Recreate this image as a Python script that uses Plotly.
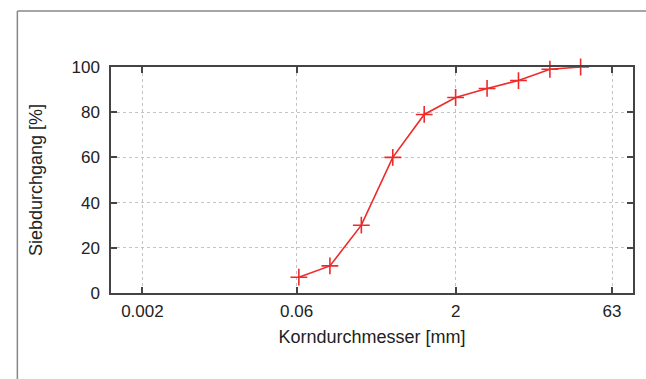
import plotly.graph_objects as go

# Data
grain_size_mm = [0.063, 0.125, 0.25, 0.5, 1, 2, 4, 8, 16, 31.5]
passing_pct = [7, 12, 30, 60, 79, 86.5, 90.5, 94, 99, 100]
x_tickvals = [0.002, 0.06, 2, 63]
x_ticklabels = ["0.002", "0.06", "2", "63"]
y_tickvals = [0, 20, 40, 60, 80, 100]

W, H = 646, 379
ml, mr, mt, mb = 111, 11, 67, 86
pw, ph = W - ml - mr, H - mt - mb

fig = go.Figure()
fig.add_trace(go.Scatter(
    x=grain_size_mm, y=passing_pct, mode="lines+markers",
    line=dict(color="#ee2a2a", width=1.6),
    marker=dict(symbol="cross-thin", size=12, line=dict(color="#ee2a2a", width=1.6)),
    showlegend=False, cliponaxis=False,
))

font = dict(family="Liberation Sans, Arial, Helvetica, sans-serif", size=17, color="#222")
tfont = dict(family="Liberation Sans, Arial, Helvetica, sans-serif", size=18, color="#222")

fig.update_layout(
    width=W, height=H,
    margin=dict(l=ml, r=mr, t=mt, b=mb),
    paper_bgcolor="white", plot_bgcolor="white",
    font=font,
    xaxis=dict(
        type="log", range=[-3, 2],
        tickvals=x_tickvals, ticktext=x_ticklabels,
        ticks="inside", ticklen=6, tickwidth=1.5, tickcolor="#444",
        ticklabelstandoff=2,
        mirror="allticks", showline=True, linecolor="#444", linewidth=1.5,
        showgrid=True, gridcolor="#c4c4c4", griddash="dot", gridwidth=1,
        zeroline=False,
        title=dict(text="Korndurchmesser [mm]", standoff=10, font=tfont),
    ),
    yaxis=dict(
        range=[0, 100],
        tickvals=y_tickvals,
        ticks="inside", ticklen=6, tickwidth=1.5, tickcolor="#444",
        ticklabelstandoff=6,
        mirror="allticks", showline=True, linecolor="#444", linewidth=1.5,
        showgrid=True, gridcolor="#c4c4c4", griddash="dot", gridwidth=1,
        zeroline=False,
        title=dict(text="Siebdurchgang [%]", standoff=24, font=tfont),
    ),
)

# outer frame (partially visible: top and left edges)
fx = (17 - ml) / pw
fy = 1 + (mt - 11) / ph
fig.add_shape(type="line", xref="paper", yref="paper", x0=fx, x1=1.2, y0=fy, y1=fy,
              line=dict(color="#888", width=1.5))
fig.add_shape(type="line", xref="paper", yref="paper", x0=fx, x1=fx, y0=-0.5, y1=fy,
              line=dict(color="#888", width=1.5))

fig.write_html("out.html")
